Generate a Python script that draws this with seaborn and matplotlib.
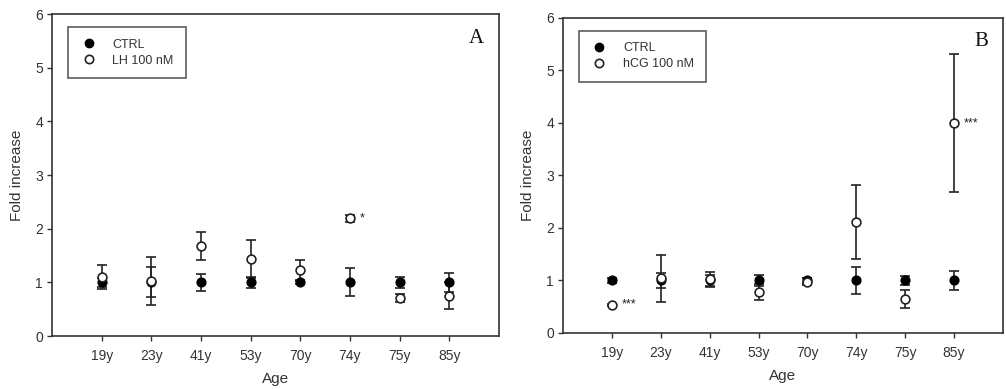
import numpy as np
import pandas as pd
import matplotlib
matplotlib.use("Agg")
import matplotlib.pyplot as plt
import seaborn as sns
from matplotlib.lines import Line2D

ages = ["19y", "23y", "41y", "53y", "70y", "74y", "75y", "85y"]

# Panel A
ctrl_a = [1.0, 1.0, 1.0, 1.0, 1.0, 1.0, 1.0, 1.0]
ctrl_a_err = [0.08, 0.28, 0.16, 0.10, 0.03, 0.26, 0.10, 0.18]
lh_a = [1.10, 1.02, 1.68, 1.43, 1.23, 2.19, 0.71, 0.75]
lh_a_err = [0.22, 0.45, 0.26, 0.35, 0.18, 0.06, 0.08, 0.25]
stars_a = ["", "", "", "", "", "*", "", ""]

# Panel B
ctrl_b = [1.0, 1.0, 1.0, 1.0, 1.0, 1.0, 1.0, 1.0]
ctrl_b_err = [0.04, 0.15, 0.10, 0.10, 0.05, 0.25, 0.08, 0.18]
hcg_b = [0.54, 1.04, 1.02, 0.78, 0.98, 2.11, 0.64, 4.00]
hcg_b_err = [0.02, 0.45, 0.14, 0.16, 0.06, 0.71, 0.17, 1.31]
stars_b = ["***", "", "", "", "", "", "", "***"]

sns.set_style("ticks")
plt.rcParams['font.family'] = ['Liberation Sans', 'DejaVu Sans']

fig = plt.figure(figsize=(10.06, 3.89), dpi=100)
axA = fig.add_axes([0.0517, 0.1362, 0.4443, 0.8278])
axB = fig.add_axes([0.5596, 0.1440, 0.4374, 0.8098])

edge = "#333333"

def panel(ax, ctrl, ctrl_err, trt, trt_err, trt_label, stars, letter):
    x = np.arange(1, len(ages) + 1)
    df = pd.DataFrame({"x": np.concatenate([x, x]),
                       "y": np.concatenate([ctrl, trt]),
                       "err": np.concatenate([ctrl_err, trt_err]),
                       "grp": ["CTRL"] * len(x) + [trt_label] * len(x)})
    for grp in ["CTRL", trt_label]:
        d = df[df.grp == grp]
        ax.errorbar(d["x"], d["y"], yerr=d["err"], fmt="none", ecolor="#222222",
                    elinewidth=1.2, capsize=3.7, capthick=1.2, zorder=2)
    d = df[df.grp == "CTRL"]
    sns.scatterplot(data=d, x="x", y="y", ax=ax, color="black", edgecolor="black",
                    s=40, linewidth=1, zorder=3, legend=False)
    d = df[df.grp == trt_label]
    sns.scatterplot(data=d, x="x", y="y", ax=ax, color="white", edgecolor="#222222",
                    s=40, linewidth=1.2, zorder=4, legend=False)
    for xi, yi, s in zip(x, trt, stars):
        if s:
            ax.text(xi + 0.2, yi, s, ha="left", va="center", fontsize=9, color="#222222")
    ax.set_xlim(0, 9)
    ax.set_ylim(0, 6)
    ax.set_xticks(x)
    ax.set_xticklabels(ages)
    ax.set_yticks(range(0, 7))
    ax.set_xlabel("Age", fontsize=11, color="#333333", labelpad=6)
    ax.set_ylabel("Fold increase", fontsize=11, color="#333333", labelpad=8)
    ax.tick_params(axis="both", labelsize=10, colors="#333333", length=3.5, width=1,
                   direction="out")
    ax.tick_params(axis="x", pad=6)
    ax.tick_params(axis="y", pad=3)
    for sp in ax.spines.values():
        sp.set_visible(True)
        sp.set_color(edge)
        sp.set_linewidth(1.2)
    ax.text(0.95, 0.925, letter, transform=ax.transAxes, fontsize=15,
            family="Liberation Serif", ha="center", va="center", color="#111111")
    handles = [Line2D([], [], marker="o", linestyle="none", markerfacecolor="black",
                      markeredgecolor="black", markersize=6),
               Line2D([], [], marker="o", linestyle="none", markerfacecolor="white",
                      markeredgecolor="#222222", markeredgewidth=1.2, markersize=6)]
    leg = ax.legend(handles, ["CTRL", trt_label], loc="upper left",
                    bbox_to_anchor=(0.036, 0.96), borderaxespad=0, fontsize=9,
                    frameon=True, fancybox=False, edgecolor=edge, borderpad=0.95,
                    labelspacing=0.3, handlelength=1.4, handletextpad=1.2)
    leg.get_frame().set_linewidth(1.2)
    for t in leg.get_texts():
        t.set_color("#333333")

panel(axA, ctrl_a, ctrl_a_err, lh_a, lh_a_err, "LH 100 nM", stars_a, "A")
panel(axB, ctrl_b, ctrl_b_err, hcg_b, hcg_b_err, "hCG 100 nM", stars_b, "B")

fig.savefig("out.png", dpi=100)
